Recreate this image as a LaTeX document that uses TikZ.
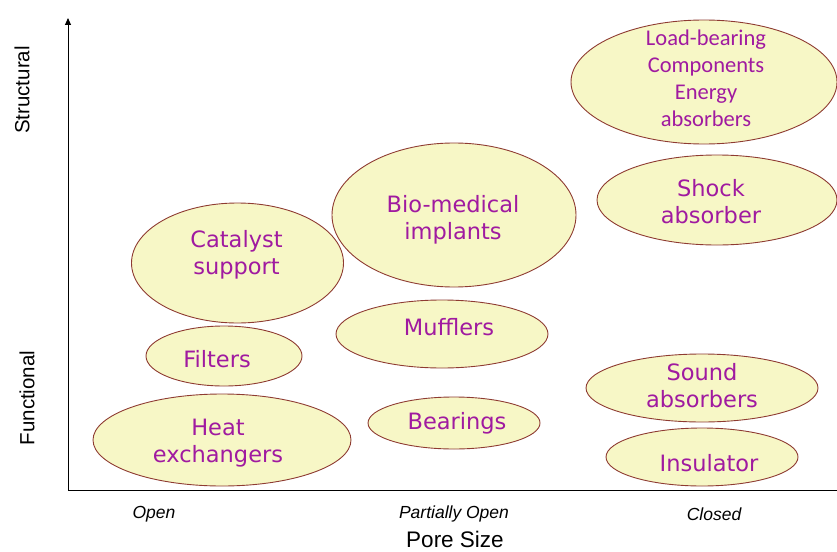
\documentclass[tikz,border=0pt]{standalone}
\usepackage{fontspec}
\setmainfont{Liberation Sans}
\newfontfamily\bubblefont{DejaVu Sans}
\newfontfamily\calfont{Carlito}
\usetikzlibrary{shapes.geometric,arrows.meta}
\definecolor{bubblefill}{HTML}{F7F7C6}
\definecolor{bubbleline}{HTML}{8E3B32}
\definecolor{bubbletext}{HTML}{A01AA0}
\begin{document}
\begin{tikzpicture}[x=1pt,y=-1pt,
  bubble/.style={ellipse,draw=bubbleline,fill=bubblefill,line width=0.9pt,
    inner sep=0pt},
  bubbletxt/.style={inner sep=0pt,text=bubbletext,align=center,
    font=\bubblefont\fontsize{22.5}{27}\selectfont},
  axislabel/.style={font=\fontsize{20.5}{22}\selectfont},
  ticklabel/.style={font=\itshape\fontsize{17.5}{19}\selectfont}]
\useasboundingbox (0,0) rectangle (837,551);
% axes
\coordinate (origin) at (68,490);
\coordinate (ytip) at (68,18);
\coordinate (xend) at (837,490);
\draw[line width=0.9pt,-{Triangle[length=7pt,width=6pt]}] (origin) -- (ytip);
\draw[line width=0.9pt] (origin) -- (xend);
% axis labels
\node[axislabel,rotate=90] (structural) at (22,90) {Structural};
\node[axislabel,rotate=90] (functional) at (27,398) {Functional};
\node[ticklabel] (open) at (154,514) {Open};
\node[ticklabel] (popen) at (454,514) {Partially Open};
\node[ticklabel] (closed) at (714,514) {Closed};
\node[inner sep=0pt,font=\fontsize{22.5}{24}\selectfont] (pore) at (455,539) {Pore Size};
% application bubbles
\node[bubble,minimum width=266pt,minimum height=124pt] (load) at (704,82) {};
\node[bubble,minimum width=240pt,minimum height=90pt] (shock) at (717,200) {};
\node[bubble,minimum width=244pt,minimum height=144pt] (bio) at (454,215) {};
\node[bubble,minimum width=212pt,minimum height=120pt] (catalyst) at (237.5,263) {};
\node[bubble,minimum width=212pt,minimum height=68pt] (mufflers) at (442,334) {};
\node[bubble,minimum width=156pt,minimum height=60pt] (filters) at (224,356) {};
\node[bubble,minimum width=232pt,minimum height=68pt] (sound) at (702,388) {};
\node[bubble,minimum width=258pt,minimum height=92pt] (heat) at (222,440) {};
\node[bubble,minimum width=172pt,minimum height=52pt] (bearings) at (454,423) {};
\node[bubble,minimum width=192pt,minimum height=58pt] (insulator) at (702,457) {};
% bubble texts
\node[bubbletxt,font=\calfont\fontsize{22.5}{27}\selectfont]
  (loadtxt) at ([shift={(2,-4)}]load.center) {Load-bearing\\Components\\Energy\\absorbers};
\node[bubbletxt] (shocktxt) at ([shift={(-6,2)}]shock.center) {Shock\\absorber};
\node[bubbletxt] (biotxt) at ([shift={(-1,5)}]bio.center) {Bio-medical\\implants};
\node[bubbletxt] (catalysttxt) at ([shift={(-1,-8)}]catalyst.center) {Catalyst\\support};
\node[bubbletxt] (mufflerstxt) at ([shift={(7,-7)}]mufflers.center) {Mufflers};
\node[bubbletxt] (filterstxt) at ([shift={(-7,3)}]filters.center) {Filters};
\node[bubbletxt] (soundtxt) at ([shift={(0,-2)}]sound.center) {Sound\\absorbers};
\node[bubbletxt] (heattxt) at ([shift={(-4,3)}]heat.center) {Heat\\exchangers};
\node[bubbletxt] (bearingstxt) at ([shift={(3,0)}]bearings.center) {Bearings};
\node[bubbletxt] (insulatortxt) at ([shift={(7,6)}]insulator.center) {Insulator};
\end{tikzpicture}
\end{document}
